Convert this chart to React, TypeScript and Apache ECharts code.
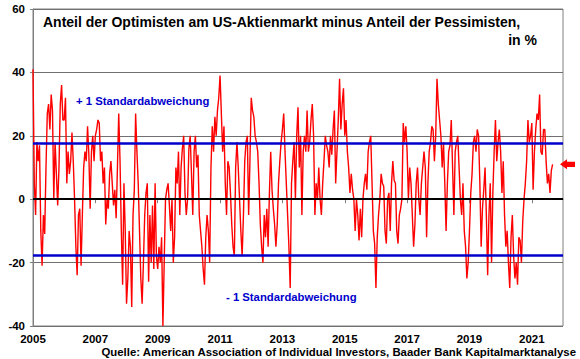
import React, { useEffect, useRef } from "react";
import * as echarts from "echarts";

// Bull-bear spread (AAII), semi-monthly readings per year (24 per year), in %
const startYear = 2005;
const v2005 = [41, 5, -5, 18, 12, 17, -10, -21, -5, -11, 10, 27, 30, 22, 33, 28, 0, 18, 8, -2, 10, 30, 36, 25];
const v2006 = [25, 32, 5, 15, 8, 12, 21, 12, 0, -15, -24, -5, -3, -21, -5, 10, 15, 12, 23, 14, -3, 15, 20, 12];
const v2007 = [20, 22, 25, 24, 12, 15, 5, 10, -8, 0, -3, 8, 12, 5, -2, 3, -6, 10, 27, 12, -10, -27, 5, -10];
const v2008 = [-33, -25, -10, -15, -34, -5, 3, 27, 15, 5, -10, -25, -33, -20, -5, 2, 5, -26, -5, -20, -2, -22, 5, -18];
const v2009 = [-22, -15, -20, -12, -40, -20, 0, 3, 5, -2, -10, 0, -20, -12, 10, 5, 15, -5, 10, 16, 20, 2, -5, 0];
const v2010 = [16, 20, 8, -5, 15, 20, 10, 14, -5, -10, -15, -22, -27, -12, -5, -10, -20, 10, 23, 15, 26, 20, 28, 32];
const v2011 = [39, 27, 15, 23, 5, -5, 12, 10, 2, -8, -15, -18, 10, 18, 10, 0, -10, -18, -5, 12, 18, 20, -5, 12];
const v2012 = [32, 28, 26, 20, 18, 15, 5, -8, -15, -20, -5, -12, -3, -15, 2, 15, 3, -3, -8, -15, -8, 5, 12, 18];
const v2013 = [22, 27, 15, 5, -5, -15, -28, 5, 12, 18, 0, 20, 29, 10, 20, -5, 15, 20, 15, 28, 15, 18, 25, 30];
const v2014 = [20, -5, 5, 0, 10, 0, -5, 5, 12, 20, 17, 15, 10, 20, 14, 22, 28, 5, 15, 25, 38, 22, 30, 35];
const v2015 = [20, 25, 15, 10, 2, 8, 3, 0, -10, 0, -5, -13, -3, -12, 0, 5, 8, 3, 15, 18, 20, 5, -10, -14];
const v2016 = [-28, -12, -5, 0, 8, 5, 4, -10, -14, 0, 2, -10, 5, 12, 6, 5, -10, -14, -5, -3, 0, 24, 18, 23];
const v2017 = [15, 0, 10, 5, -5, -15, -8, 5, 10, 0, -5, 5, 10, 15, 10, -12, 5, 15, 18, 23, 22, 12, 20, 38];
const v2018 = [30, 25, 20, 10, 18, 5, -10, 5, 15, 17, 25, 10, -5, 15, 18, 20, 10, 0, -5, 5, -10, -15, -25, -20];
const v2019 = [-10, 2, 8, 18, 20, 15, 22, 20, 5, -15, -3, 3, 10, -5, -24, -5, 5, -20, 2, 15, 25, 12, 18, 22];
const v2020 = [15, 2, 12, -5, -15, -10, -20, -28, -12, -5, -18, -25, -20, -27, -12, -13, -20, -7, 0, 5, 12, 25, 18, 20];
const v2021 = [24, 3, 15, 22, 27, 25, 33, 15, 14, 22, 22, 12, 5, 8, 2, 9, 11];

const yearSeries = [v2005, v2006, v2007, v2008, v2009, v2010, v2011, v2012, v2013, v2014, v2015, v2016, v2017, v2018, v2019, v2020, v2021];
const stdDev = 17.7;
const yTicks = [-40, -20, 0, 20, 40, 60];

const title1 = "Anteil der Optimisten am US-Aktienmarkt minus Anteil der Pessimisten,";
const title2 = "in %";
const plusLabel = "+ 1 Standardabweichung";
const minusLabel = "- 1 Standardabweichung";
const sourceLabel = "Quelle: American Association of Individual Investors, Baader Bank Kapitalmarktanalyse";

const FONT = "'Liberation Sans', Arial, sans-serif";

export default function App() {
  const ref = useRef<HTMLDivElement>(null);
  useEffect(() => {
    if (!ref.current) return;
    const chart = echarts.init(ref.current, null, { renderer: "svg" });
    const data: [number, number][] = [];
    yearSeries.forEach((arr, yi) => {
      arr.forEach((v, i) => data.push([yi + i / 24, v]));
    });
    const last = data[data.length - 1];
    chart.setOption({
      animation: false,
      backgroundColor: "#ffffff",
      grid: { left: 33, right: 17, top: 9, bottom: 33, show: true, borderColor: "#808080", borderWidth: 1, backgroundColor: "transparent" },
      xAxis: {
        type: "value",
        min: 0,
        max: 17,
        interval: 2,
        axisLine: { show: true, lineStyle: { color: "#808080", width: 1 } },
        axisTick: { show: true, length: 4, lineStyle: { color: "#808080" } },
        splitLine: { show: false },
        axisLabel: {
          showMaxLabel: false,
          margin: 7,
          color: "#000",
          fontWeight: "bold",
          fontSize: 11.5,
          fontFamily: FONT,
          formatter: (v: number) => String(startYear + v),
        },
      },
      yAxis: {
        type: "value",
        min: yTicks[0],
        max: yTicks[yTicks.length - 1],
        interval: 20,
        axisLine: { show: true, lineStyle: { color: "#808080", width: 1 } },
        axisTick: { show: true, length: 3, lineStyle: { color: "#808080" } },
        splitLine: { show: true, lineStyle: { color: "#707070", width: 1 } },
        axisLabel: { margin: 8, color: "#000", fontWeight: "bold", fontSize: 11.5, fontFamily: FONT },
      },
      series: [
        {
          type: "line",
          data,
          symbol: "none",
          smooth: false,
          lineStyle: { color: "#ff0000", width: 1.4 },
          z: 2,
        },
        {
          type: "line",
          data: [],
          markLine: {
            silent: true,
            symbol: ["none", "none"],
            label: { show: false },
            data: [
              { yAxis: 0, lineStyle: { color: "#000000", width: 2, type: "solid" } },
              { yAxis: stdDev, lineStyle: { color: "#0000cc", width: 2.5, type: "solid" } },
              { yAxis: -stdDev, lineStyle: { color: "#0000cc", width: 2.5, type: "solid" } },
            ],
          },
          z: 3,
        },
      ],
    });
    const p = chart.convertToPixel({ gridIndex: 0 }, [17, last[1]]) as number[];
    const ay = p[1];
    const ax = 560;
    chart.setOption({
      graphic: [
        { type: "text", x: 43, y: 22, style: { text: title1, font: `bold 14px ${FONT}`, fill: "#000", verticalAlign: "middle" } },
        { type: "text", x: 537, y: 40, style: { text: title2, font: `bold 14px ${FONT}`, fill: "#000", align: "right", verticalAlign: "middle" } },
        { type: "text", x: 76, y: 101, style: { text: plusLabel, font: `bold 11.3px ${FONT}`, fill: "#0000cc", verticalAlign: "middle" } },
        { type: "text", x: 226, y: 297, style: { text: minusLabel, font: `bold 11.3px ${FONT}`, fill: "#0000cc", verticalAlign: "middle" } },
        { type: "text", x: 576, y: 352, style: { text: sourceLabel, font: `bold 11.4px ${FONT}`, fill: "#000", align: "right", verticalAlign: "middle" } },
        {
          type: "polygon",
          shape: {
            points: [
              [ax, ay],
              [ax + 7, ay - 5],
              [ax + 7, ay - 2.7],
              [ax + 15, ay - 2.7],
              [ax + 15, ay + 2.7],
              [ax + 7, ay + 2.7],
              [ax + 7, ay + 5],
            ],
          },
          style: { fill: "#ff0000" },
        },
      ],
    });
    return () => chart.dispose();
  }, []);
  return <div ref={ref} style={{ position: "fixed", left: 0, top: 0, width: 580, height: 359 }} />;
}
